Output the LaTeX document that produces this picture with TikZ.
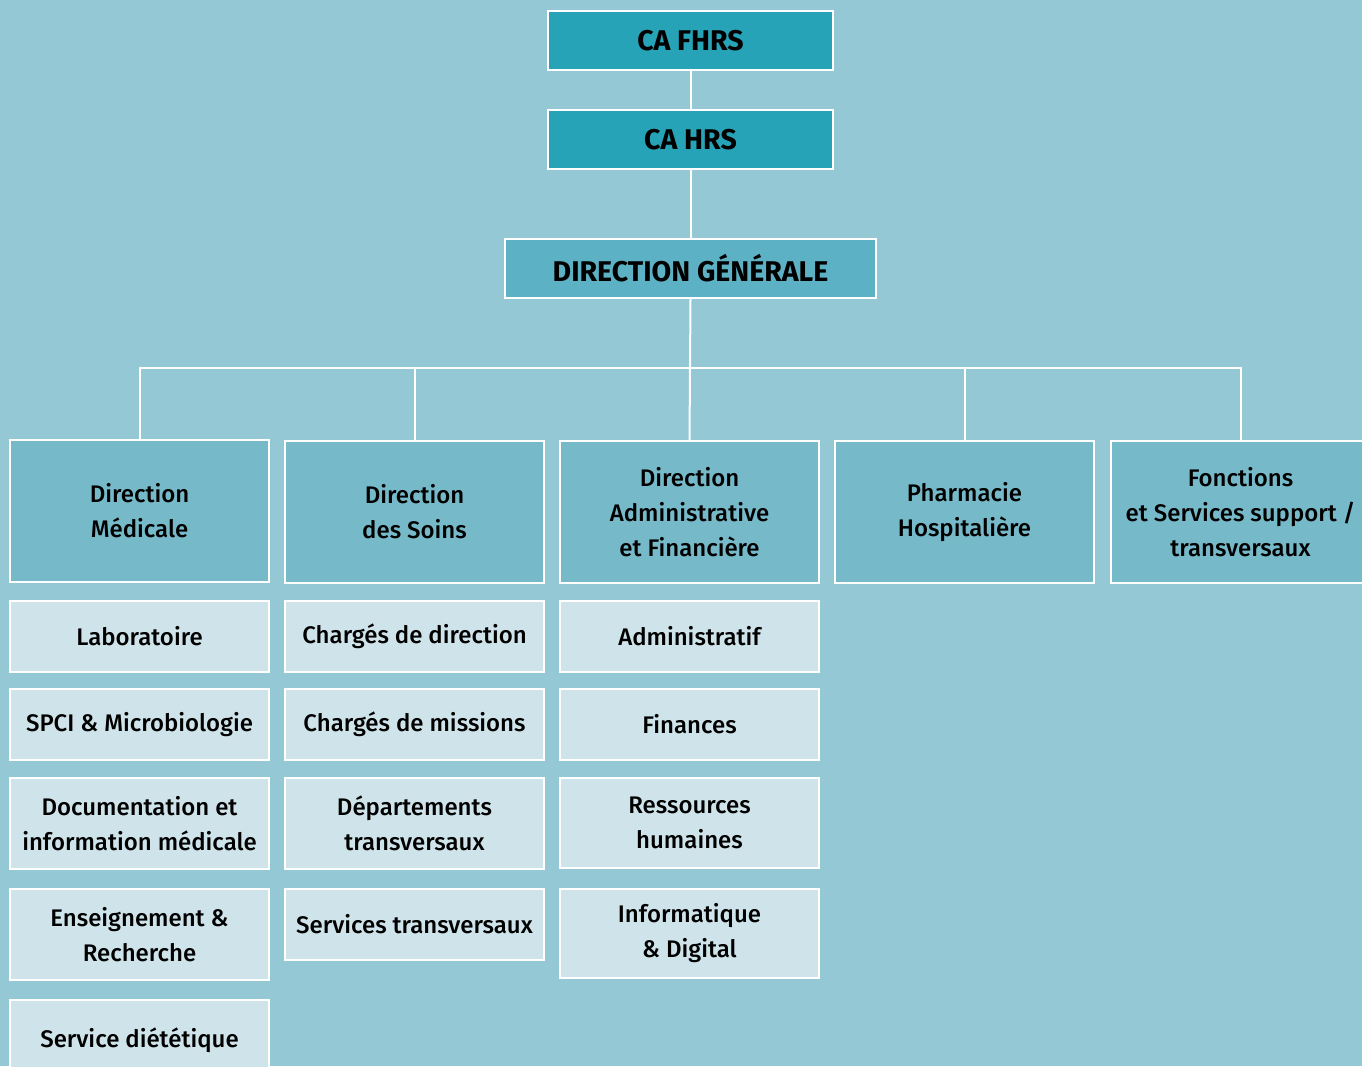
\documentclass[tikz,border=0pt]{standalone}
\usepackage{fontspec}
\setmainfont{Fira Sans}[UprightFont={* Medium},BoldFont={* Bold}]
\definecolor{bgc}{HTML}{94C8D5}
\definecolor{topc}{HTML}{27A3B8}
\definecolor{dgc}{HTML}{5DB1C4}
\definecolor{lvc}{HTML}{76BACA}
\definecolor{subc}{HTML}{CFE4EA}
\tikzset{
  base/.style={draw=white,line width=1.5pt,rectangle,align=center,inner sep=0pt,text=black},
  topbox/.style={base,fill=topc,minimum width=285pt,minimum height=59pt,font=\fontsize{28.5}{32}\selectfont\bfseries},
  dgbox/.style={base,fill=dgc,minimum width=371pt,minimum height=59pt,font=\fontsize{28.5}{32}\selectfont\bfseries},
  lvbox/.style={base,fill=lvc,minimum width=259pt,minimum height=142pt,font=\fontsize{24}{35}\selectfont},
  subbox/.style={base,fill=subc,minimum width=259pt,font=\fontsize{24}{35}\selectfont},
  conn/.style={draw=white,line width=2pt}
}
\begin{document}
\begin{tikzpicture}[x=1pt,y=-1pt]
\fill[bgc] (0,0) rectangle (1362,1066);
\useasboundingbox (0,0) rectangle (1362,1066);
\clip (0,0) rectangle (1362,1066);
\node[topbox] (fhrs) at (690.5,40.5) {CA FHRS};
\node[topbox] (hrs) at (690.5,139.5) {CA HRS};
\node[dgbox] (dg) at (690.5,268.5) {DIRECTION GÉNÉRALE};
\coordinate (bus) at (690,368);
\node[lvbox] (dm) at (139.5,511) {Direction\\Médicale};
\node[lvbox] (ds) at (414.5,512) {Direction\\des Soins};
\node[lvbox] (daf) at (689.5,512) {Direction\\Administrative\\et Financière};
\node[lvbox] (ph) at (964.5,512) {Pharmacie\\Hospitalière};
\node[lvbox] (fs) at (1240.5,512) {Fonctions\\et Services support /\\transversaux};
% column 1
\node[subbox,minimum height=71pt] (lab) at (139.5,636.5) {Laboratoire};
\node[subbox,minimum height=71pt] (spci) at (139.5,724.5) {SPCI \& Microbiologie};
\node[subbox,minimum height=91pt] (doc) at (139.5,823.5) {Documentation et\\information médicale};
\node[subbox,minimum height=91pt] (ens) at (139.5,934.5) {Enseignement \&\\Recherche};
\node[subbox,minimum height=80pt] (diet) at (139.5,1040) {Service diététique};
% column 2
\node[subbox,minimum height=71pt] (cdd) at (414.5,636.5) {Chargés de direction};
\node[subbox,minimum height=71pt] (cdm) at (414.5,724.5) {Chargés de missions};
\node[subbox,minimum height=91pt] (dep) at (414.5,823.5) {Départements\\transversaux};
\node[subbox,minimum height=71pt] (st) at (414.5,924.5) {Services transversaux};
% column 3
\node[subbox,minimum height=71pt] (adm) at (689.5,636.5) {Administratif};
\node[subbox,minimum height=71pt] (fin) at (689.5,724.5) {Finances};
\node[subbox,minimum height=90pt] (rh) at (689.5,823) {Ressources\\humaines};
\node[subbox,minimum height=89pt] (inf) at (689.5,933.5) {Informatique\\\& Digital};
% connectors
\draw[conn] (fhrs.south) -- (hrs.north);
\draw[conn] (hrs.south) -- (dg.north);
\draw[conn] (dg.south) -- (bus);
\draw[conn] (dm.north) |- (bus);
\draw[conn] (ds.north) |- (bus);
\draw[conn] (daf.north) -- (bus);
\draw[conn] (ph.north) |- (bus);
\draw[conn] (fs.north) |- (bus);
\end{tikzpicture}
\end{document}
